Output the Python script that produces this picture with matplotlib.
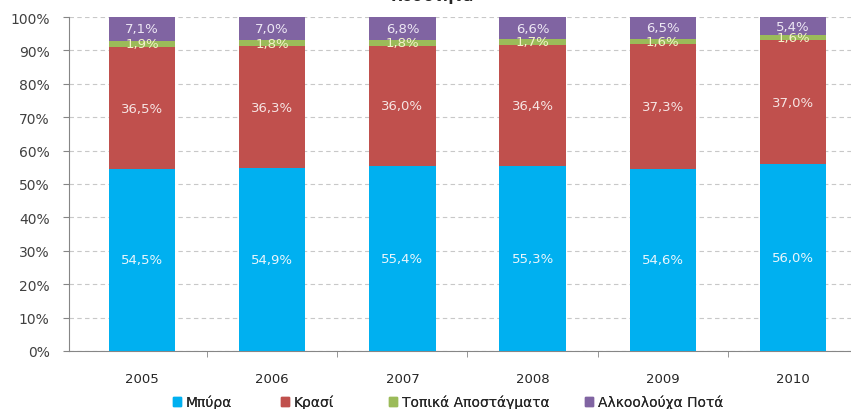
import numpy as np
import matplotlib
matplotlib.use("Agg")
import matplotlib.pyplot as plt
from matplotlib.patches import Patch
from matplotlib.ticker import FixedLocator, PercentFormatter

years = ["2005", "2006", "2007", "2008", "2009", "2010"]
beer = [54.5, 54.9, 55.4, 55.3, 54.6, 56.0]
wine = [36.5, 36.3, 36.0, 36.4, 37.3, 37.0]
spirits_local = [1.9, 1.8, 1.8, 1.7, 1.6, 1.6]
alcohol_drinks = [7.1, 7.0, 6.8, 6.6, 6.5, 5.4]

series_names = ["Μπύρα", "Κρασί", "Τοπικά Αποστάγματα", "Αλκοολούχα Ποτά"]
series = [beer, wine, spirits_local, alcohol_drinks]
colors = ["#00B0F0", "#C0504D", "#9BBB59", "#8064A2"]
label_colors = ["#EAF6FC", "#F6E4E3", "#F2F2C8", "#EDE7F4"]

plt.rcParams["font.family"] = ["DejaVu Sans"]

fig = plt.figure(figsize=(8.51, 4.10), dpi=100)
ax = fig.add_axes([69 / 851, 58 / 410, 1 - 69 / 851, 334 / 410])

x = np.arange(len(years))
bottom = np.zeros(len(years))
for name, vals, col, lcol in zip(series_names, series, colors, label_colors):
    vals = np.array(vals)
    ax.bar(x, vals, 0.51, bottom=bottom, color=col, label=name, zorder=3)
    for xi, b, v in zip(x, bottom, vals):
        ax.text(xi, b + v / 2, f"{v:.1f}%".replace(".", ","), ha="center", va="center",
                fontsize=9.5, color=lcol, zorder=4)
    bottom += vals

ax.set_ylim(0, 100)
ax.set_xlim(-0.56, 5.445)
ax.yaxis.set_major_locator(FixedLocator(np.arange(0, 101, 10)))
ax.yaxis.set_major_formatter(PercentFormatter(decimals=0))
ax.grid(axis="y", linestyle=(0, (4, 3)), color="#C8C8C8", linewidth=0.8, zorder=0)

ax.set_xticks(x)
ax.set_xticklabels(years)
ax.set_xticks(np.arange(0.5, 5.5, 1), minor=True)
ax.tick_params(axis="x", which="major", length=0, pad=15, labelsize=9.5, labelcolor="#262626")
ax.tick_params(axis="x", which="minor", length=4, color="#868686", direction="out")
ax.tick_params(axis="y", length=4, color="#868686", labelsize=10, labelcolor="#404040", pad=10)

for s in ["top", "right"]:
    ax.spines[s].set_visible(False)
for s in ["left", "bottom"]:
    ax.spines[s].set_color("#868686")

# title is cut off at the top edge in the original
fig.text(0.508, 409 / 410, "Ποσότητα", ha="center", va="baseline", fontsize=10.5,
         fontweight="bold", color="#262626")

# legend entries, placed one by one like the Excel layout
leg_x = [173, 281, 389, 585]
for name, col, lx in zip(series_names, colors, leg_x):
    leg = fig.legend(handles=[Patch(color=col, label=name)], loc="center left",
                     bbox_to_anchor=(lx / 851, 7 / 410), frameon=False, fontsize=10,
                     handlelength=0.6, handleheight=0.6, handletextpad=0.3,
                     borderaxespad=0, borderpad=0, labelcolor="#262626")
    fig.add_artist(leg)

fig.savefig("out.png", dpi=100)
